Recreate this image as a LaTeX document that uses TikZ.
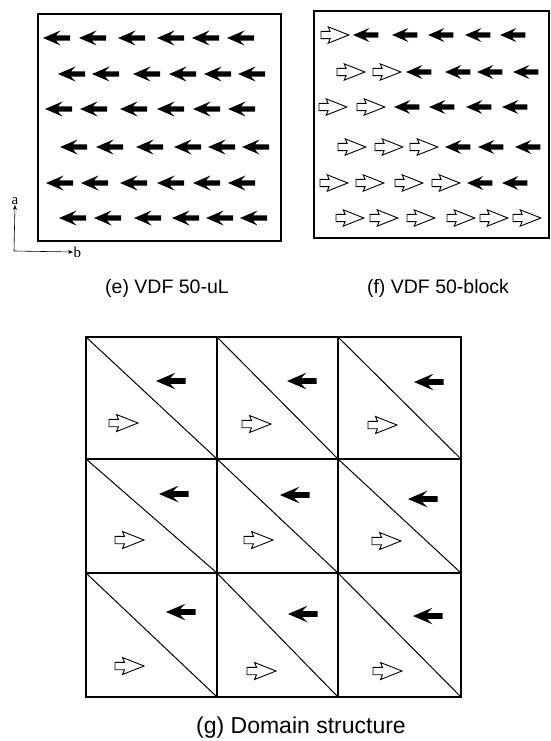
\documentclass[tikz,border=0pt]{standalone}
\usepackage{fontspec}
\setmainfont{Liberation Sans}
\newfontfamily\axisfont{Liberation Serif}
\usepackage{graphicx}
\usetikzlibrary{arrows.meta}
\tikzset{
  blkarrow/.pic={\fill[black] (0,0) -- (17.5,-7.5) -- (13,-2.7) -- (27,-2.7) -- (27,2.7) -- (13,2.7) -- (17.5,7.5) -- cycle;},
  opnarrow/.pic={\draw[black,fill=white,line width=0.9pt,line join=miter] (0,-3.7) -- (9.5,-3.7) -- (7.5,-8.5) -- (29,0) -- (7.5,8.5) -- (9.5,3.7) -- (0,3.7) -- cycle;},
  frame/.style={draw=black,line width=1.1pt},
  gridline/.style={draw=black,line width=1.1pt},
  diagline/.style={draw=black,line width=1pt},
  capsmall/.style={inner sep=0pt,font=\fontsize{19.5}{22}\selectfont},
  capbig/.style={inner sep=0pt,font=\fontsize{23}{27}\selectfont},
  axislabel/.style={inner sep=0.5pt,font=\axisfont\fontsize{15}{17}\selectfont},
  axisarrow/.style={draw=black,line width=0.6pt,-{Stealth[length=5pt,width=4pt]}},
}
\begin{document}
\begin{tikzpicture}[x=1pt,y=-1pt]
\useasboundingbox (0,0) rectangle (551,741);
\fill[white] (0,0) rectangle (551,741);

% ---------- panel (e) ----------
\draw[frame] (38,14) rectangle (281,241);
\foreach \yy/\xs in {38/{43,79,118,157,192,227},
                     74/{58,92,133,169,204,238},
                     109/{45,80,120,157,193,228},
                     147/{60,96,136,174,208,242},
                     183/{46,81,120,157,193,228},
                     218/{59,94,134,172,206,240}}{
  \foreach \xx in \xs {\pic at (\xx,\yy) {blkarrow};}
}

% axes
\coordinate (orig) at (14,251);
\node[axislabel,anchor=south] (alab) at (15,205) {a};
\node[axislabel,anchor=west] (blab) at (73,252) {b};
\draw[axisarrow] (orig) -- (alab.south);
\draw[axisarrow] (orig) -- (blab.west);

% ---------- panel (f) ----------
\draw[frame] (314,11) rectangle (549,238);
% open arrows (tail x)
\foreach \yy/\xs in {35/{321},
                     72/{337,373},
                     107/{319,357},
                     147/{338,375,410},
                     183/{320,356,395,432},
                     218/{336,370,407,447,480,513}}{
  \foreach \xx in \xs {\pic[scale=0.96] at (\xx,\yy) {opnarrow};}
}
% black arrows (tip x)
\foreach \yy/\xs in {35/{353,392,428,465,500},
                     72/{406,445,477,513},
                     107/{394,429,466,502},
                     147/{445,478,515},
                     183/{467,502}}{
  \foreach \xx in \xs {\pic[scale=0.94] at (\xx,\yy) {blkarrow};}
}

% captions
\node[capsmall] (cape) at (167,288) {(e) VDF 50-uL};
\node[capsmall] (capf) at (438,288) {(f) VDF 50-block};

% ---------- panel (g) ----------
\draw[gridline] (86,337) rectangle (461,697);
\draw[gridline] (217,337) -- (217,697);
\draw[gridline] (338,337) -- (338,697);
\draw[gridline] (86,459) -- (461,459);
\draw[gridline] (86,573) -- (461,573);
% diagonals
\foreach \xa/\xb in {86/217,217/338,338/461}{
  \draw[diagline] (\xa,337) -- (\xb,459);
  \draw[diagline] (\xa,459) -- (\xb,573);
  \draw[diagline] (\xa,573) -- (\xb,697);
}
% black arrows (tip)
\foreach \xx/\yy in {156/381,287/381,414/382,
                     159/494,280/495,408/499,
                     166/612,288/614,413/616}{
  \pic[scale=1.1] at (\xx,\yy) {blkarrow};
}
% open arrows (tail)
\foreach \xx/\yy in {109/423,242/424,368/425,
                     115/540,244/540,372/541,
                     115/666,247/671,373/671}{
  \pic at (\xx,\yy) {opnarrow};
}

\node[capbig] (capg) at (301,728) {(g) Domain structure};
\end{tikzpicture}
\end{document}
